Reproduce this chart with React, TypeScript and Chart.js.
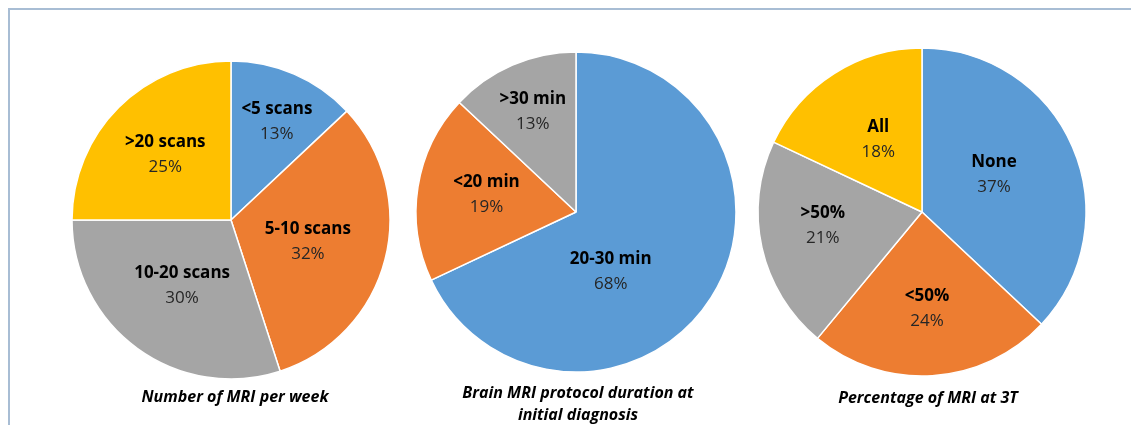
import React, { useEffect, useRef } from "react";
import { Chart, registerables } from "chart.js";

Chart.register(...registerables);

// Survey results, one pie per question
const weeklyLabels = ["<5 scans", "5-10 scans", "10-20 scans", ">20 scans"];
const weeklyValues = [13, 32, 30, 25];

const durationLabels = ["20-30 min", "<20 min", ">30 min"];
const durationValues = [68, 19, 13];

const fieldLabels = ["None", "<50%", ">50%", "All"];
const fieldValues = [37, 24, 21, 18];

const captions = [
  ["Number of MRI per week"],
  ["Brain MRI protocol duration at", "initial diagnosis"],
  ["Percentage of MRI at 3T"],
];

const BLUE = "#5B9BD5";
const ORANGE = "#ED7D31";
const GRAY = "#A5A5A5";
const YELLOW = "#FFC000";

const FONT = "'Open Sans', 'DejaVu Sans', sans-serif";
const CANVAS = 360;

type PieSpec = {
  labels: string[];
  values: number[];
  colors: string[];
  cx: number;
  cy: number;
  radius: number;
  // where each data label sits: fraction of radius, and angular nudge (deg)
  labelDist: number[];
  labelShift: number[];
};

const pies: PieSpec[] = [
  {
    labels: weeklyLabels,
    values: weeklyValues,
    colors: [BLUE, ORANGE, GRAY, YELLOW],
    cx: 231,
    cy: 220,
    radius: 159,
    labelDist: [0.685, 0.503, 0.516, 0.585],
    labelShift: [1.5, 1.5, 0.6, 0],
  },
  {
    labels: durationLabels,
    values: durationValues,
    colors: [BLUE, ORANGE, GRAY],
    cx: 576,
    cy: 212,
    radius: 160,
    labelDist: [0.43, 0.57, 0.68],
    labelShift: [27.3, 2, 0],
  },
  {
    labels: fieldLabels,
    values: fieldValues,
    colors: [BLUE, ORANGE, GRAY, YELLOW],
    cx: 922,
    cy: 212,
    radius: 164,
    labelDist: [0.494, 0.59, 0.61, 0.518],
    labelShift: [-3.8, 0.6, 5, 1.4],
  },
];

const captionPos = [
  { x: 235, y: 396 },
  { x: 578, y: 392 },
  { x: 928, y: 397 },
];

function makeLabelPlugin(spec: PieSpec) {
  return {
    id: "sliceLabels",
    afterDatasetsDraw(chart: any) {
      const ctx = chart.ctx;
      const meta = chart.getDatasetMeta(0);
      const data = chart.data.datasets[0].data as number[];
      ctx.save();
      ctx.textAlign = "center";
      ctx.textBaseline = "middle";
      meta.data.forEach((arc: any, i: number) => {
        const p = arc.getProps(["x", "y", "startAngle", "endAngle", "outerRadius"], true);
        const mid = (p.startAngle + p.endAngle) / 2 + (spec.labelShift[i] * Math.PI) / 180;
        const d = p.outerRadius * spec.labelDist[i];
        const x = p.x + Math.cos(mid) * d;
        const y = p.y + Math.sin(mid) * d;
        ctx.fillStyle = "#000000";
        ctx.font = `bold 17px ${FONT}`;
        ctx.fillText(String(chart.data.labels[i]), x, y - 12.5);
        ctx.fillStyle = "#262626";
        ctx.font = `17px ${FONT}`;
        ctx.fillText(`${data[i]}%`, x, y + 12.5);
      });
      ctx.restore();
    },
  };
}

function Pie({ spec }: { spec: PieSpec }) {
  const ref = useRef<HTMLCanvasElement | null>(null);
  useEffect(() => {
    if (!ref.current) return;
    const chart = new Chart(ref.current, {
      type: "pie",
      data: {
        labels: spec.labels,
        datasets: [
          {
            data: spec.values,
            backgroundColor: spec.colors,
            borderColor: "#ffffff",
            borderWidth: 1.5,
          },
        ],
      },
      options: {
        responsive: false,
        animation: false,
        radius: spec.radius,
        layout: { padding: 0 },
        events: [],
        plugins: {
          legend: { display: false },
          tooltip: { enabled: false },
          title: { display: false },
        },
      } as any,
      plugins: [makeLabelPlugin(spec)],
    });
    return () => chart.destroy();
  }, [spec]);
  return (
    <canvas
      ref={ref}
      width={CANVAS}
      height={CANVAS}
      style={{
        position: "absolute",
        left: spec.cx - CANVAS / 2,
        top: spec.cy - CANVAS / 2,
        width: CANVAS,
        height: CANVAS,
      }}
    />
  );
}

export default function App() {
  return (
    <div>
      <div
        style={{
          position: "absolute",
          left: 8,
          top: 8,
          right: 0,
          bottom: 0,
          borderLeft: "2px solid #a8bdd4",
          borderTop: "2px solid #a8bdd4",
          background: "#ffffff",
        }}
      />
      {pies.map((p, i) => (
        <Pie key={i} spec={p} />
      ))}
      {captions.map((lines, i) => (
        <div
          key={`c${i}`}
          style={{
            position: "absolute",
            left: captionPos[i].x - 170,
            top: captionPos[i].y - 11,
            width: 340,
            textAlign: "center",
            fontFamily: FONT,
            fontStyle: "italic",
            fontWeight: "bold",
            fontSize: 16,
            lineHeight: "22px",
            color: "#000000",
          }}
        >
          {lines.map((l, j) => (
            <div key={j}>{l}</div>
          ))}
        </div>
      ))}
    </div>
  );
}
